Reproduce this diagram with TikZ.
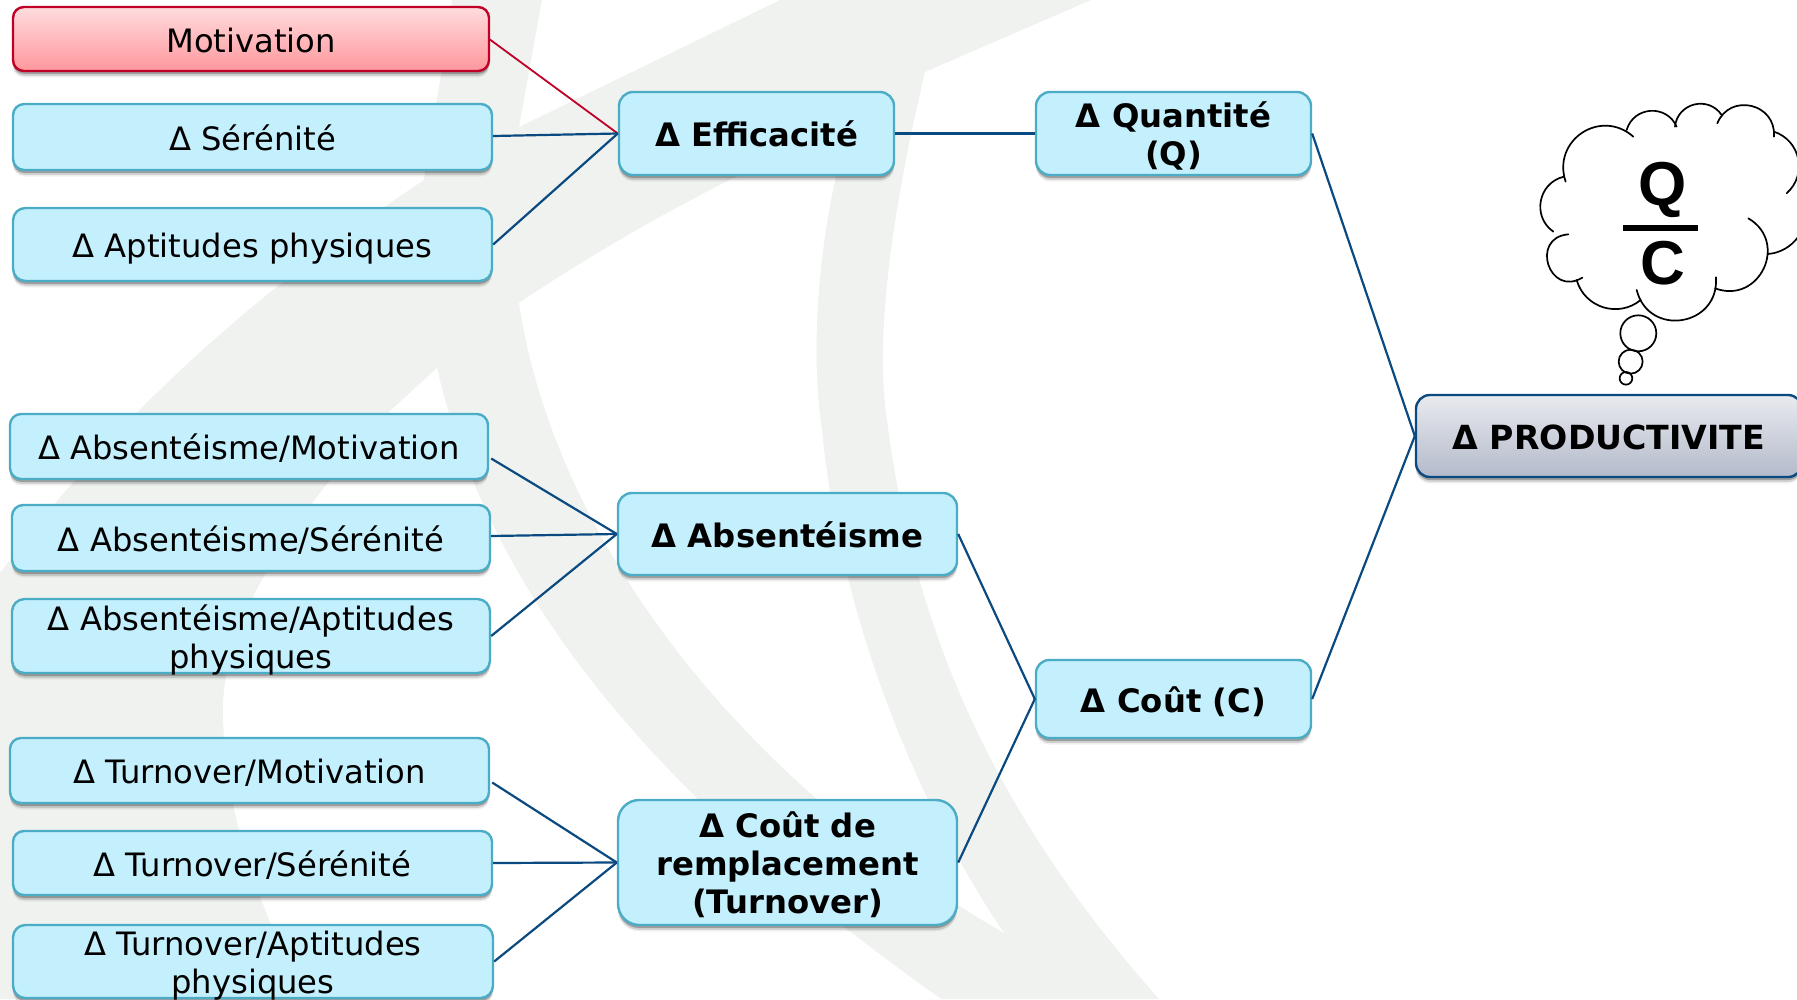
\documentclass[tikz,border=0pt]{standalone}
\usepackage{fontspec}
\setmainfont{DejaVu Sans}
\newfontfamily\arialb[BoldFont={Liberation Sans Bold}]{Liberation Sans}
\usetikzlibrary{shadows}
\definecolor{bggray}{HTML}{F0F2F0}
\definecolor{boxfill}{HTML}{C4EFFD}
\definecolor{boxline}{HTML}{4BACC6}
\definecolor{navy}{HTML}{0B4A80}
\definecolor{redl}{HTML}{C00026}
\definecolor{redtop}{HTML}{FFDCDE}
\definecolor{redbot}{HTML}{FF979C}
\definecolor{prodtop}{HTML}{E8EAEF}
\definecolor{prodbot}{HTML}{B4BACA}
\tikzset{
  softsh/.style={
    general shadow={shadow yshift=-6.5pt,fill=black,opacity=.05},
    general shadow={shadow yshift=-5pt,fill=black,opacity=.13},
    general shadow={shadow yshift=-3pt,fill=black,opacity=.25}},
  basebox/.style={rectangle,inner sep=0pt,line width=2.4pt,softsh},
  plainbox/.style={basebox,draw=boxline,fill=boxfill,font=\fontsize{32.2}{38}\selectfont},
  boldbox/.style={basebox,draw=boxline,fill=boxfill,font=\fontsize{32.3}{38}\selectfont\bfseries},
  redbox/.style={basebox,draw=redl,top color=redtop,bottom color=redbot,font=\fontsize{32.2}{38}\selectfont},
  prodbox/.style={basebox,draw=navy,top color=prodtop,bottom color=prodbot,font=\fontsize{33.2}{38}\selectfont\bfseries},
  conn/.style={draw=navy,line width=2.2pt},
  connred/.style={draw=redl,line width=1.8pt},
  cloudline/.style={draw=black,line width=1.7pt,line cap=round}
}
\newcommand\bx[7]{%
  \pgfmathsetmacro\rr{0.17*(#6-#4)}%
  \node[#2,rounded corners=\rr pt,minimum width=#5pt-#3pt,minimum height=#6pt-#4pt] (#1) at ({(#3+#5)/2},{(#4+#6)/2})
    {\raisebox{-12pt}[0pt][0pt]{\begin{tabular}{@{}c@{}}#7\end{tabular}}};}
\begin{document}
\begin{tikzpicture}[x=1pt,y=-1pt]
\useasboundingbox (0,0) rectangle (1797,999);
\begin{scope}
\clip (0,0) rectangle (1797,999);
% watermark
\fill[bggray] (452,0) -- (542,0) -- (519,127) -- (780,0) -- (1091,0) -- (925,72)
  .. controls (890,220) and (875,340) .. (887,420)
  .. controls (915,640) and (1000,820) .. (1159,999)
  -- (0,999) -- (0,573)
  .. controls (130,400) and (260,290) .. (424,180)
  .. controls (432,120) and (445,60) .. (452,0) -- cycle;
\fill[white] (519,303) .. controls (620,235) and (740,170) .. (850,125)
  .. controls (822,210) and (808,340) .. (822,430)
  .. controls (840,620) and (920,810) .. (1004,933)
  .. controls (740,780) and (555,540) .. (519,303) -- cycle;
\fill[white] (437,368) -- (389,412)
  .. controls (290,520) and (223,620) .. (223,710)
  .. controls (223,810) and (260,910) .. (306,999)
  -- (941,999)
  .. controls (660,800) and (490,600) .. (437,368) -- cycle;
% cloud
\begin{scope}[shift={(1400,80)},x=0.3333pt,y=-0.3333pt]
\draw[cloudline] (497,305) to[bend left=75,looseness=1.37] (700,170);
\draw[cloudline] (680,150) to[bend left=70,looseness=1.27] (830,140);
\draw[cloudline] (825,140) to[bend left=70,looseness=1.27] (965,105);
\draw[cloudline] (952,130) to[bend left=81,looseness=1.47] (1122,170);
\draw[cloudline] (1122,155) to[bend left=60,looseness=1.14] (1160,340);
\draw[cloudline] (1045,415) to[bend left=85,looseness=1.57] (945,625);
\draw[cloudline] (1195,470) to[bend left=25,looseness=0.89] (1105,522);
\draw[cloudline] (948,592) to[bend left=85,looseness=1.57] (710,630);
\draw[cloudline] (722,660) to[bend left=57,looseness=1.1] (530,600);
\draw[cloudline] (547,593) to[bend left=103,looseness=2.18] (505,463);
\draw[cloudline] (460,455) to[bend left=66,looseness=1.21] (492,290);
\draw[cloudline] (715,760) circle (54);
\draw[cloudline] (692,845) circle (36);
\draw[cloudline] (678,895) circle (19);
\end{scope}
\node[font=\arialb\fontsize{62}{62}\selectfont\bfseries,inner sep=0pt] (q) at (1663,190) {Q};
\node[font=\arialb\fontsize{62}{62}\selectfont\bfseries,inner sep=0pt] (c) at (1663,263) {C};
\fill[black] (1623,225) rectangle (1698,231);
% boxes
\bx{mot}{redbox}{13}{7}{489}{71}{Motivation}
\bx{ser}{plainbox}{13}{104}{492}{170}{Δ Sérénité}
\bx{apt}{plainbox}{13}{208}{492}{281}{Δ Aptitudes physiques}
\bx{eff}{boldbox}{619}{92}{894}{175}{Δ Efficacité}
\bx{qua}{boldbox}{1036}{92}{1311}{175}{Δ Quantité\\(Q)}
\bx{prod}{prodbox}{1416}{395}{1802}{477}{Δ PRODUCTIVITE}
\bx{am}{plainbox}{10}{414}{488}{479}{Δ Absentéisme/Motivation}
\bx{as}{plainbox}{12}{505}{490}{571}{Δ Absentéisme/Sérénité}
\bx{aa}{plainbox}{12}{599}{490}{673}{Δ Absentéisme/Aptitudes\\physiques}
\bx{abs}{boldbox}{618}{493}{957}{575}{Δ Absentéisme}
\bx{cou}{boldbox}{1036}{660}{1311}{738}{Δ Coût (C)}
\bx{tm}{plainbox}{10}{738}{489}{803}{Δ Turnover/Motivation}
\bx{ts}{plainbox}{13}{831}{492}{895}{Δ Turnover/Sérénité}
\bx{ta}{plainbox}{13}{925}{493}{998}{Δ Turnover/Aptitudes\\physiques}
\bx{rem}{boldbox}{618}{800}{957}{925}{Δ Coût de\\remplacement\\(Turnover)}
% connectors
\draw[connred] ([shift={(-1,0)}]mot.east) -- (eff.west);
\draw[conn] ([shift={(0,-1)}]ser.east) -- (eff.west);
\draw[conn] (apt.east) -- (eff.west);
\draw[conn] (eff.east) -- (qua.west);
\draw[conn] (qua.east) -- (prod.west);
\draw[conn] ([shift={(2,12)}]am.east) -- (abs.west);
\draw[conn] ([shift={(0,-2)}]as.east) -- (abs.west);
\draw[conn] (aa.east) -- (abs.west);
\draw[conn] (abs.east) -- (cou.west);
\draw[conn] ([shift={(2,12)}]tm.east) -- (rem.west);
\draw[conn] (ts.east) -- (rem.west);
\draw[conn] (ta.east) -- (rem.west);
\draw[conn] (rem.east) -- (cou.west);
\draw[conn] (cou.east) -- (prod.west);
\end{scope}
\end{tikzpicture}
\end{document}
